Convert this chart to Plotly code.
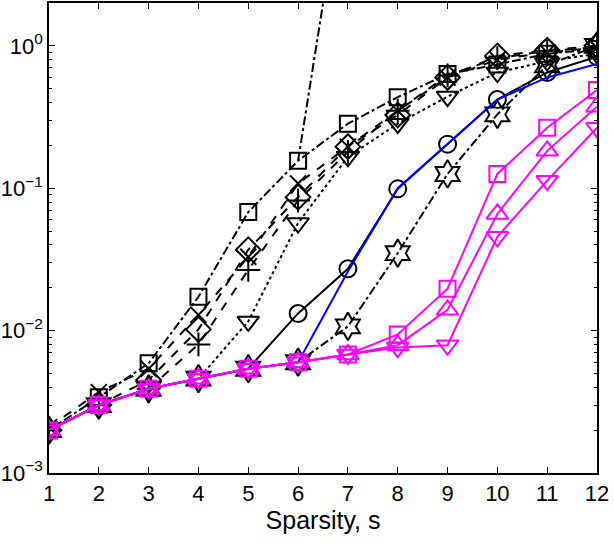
import plotly.graph_objects as go

x = list(range(1, 13))

sq_black = [0.002, 0.0034, 0.0059, 0.0173, 0.068, 0.156, 0.284, 0.436, 0.634, 0.74, 0.88, 0.95]
x_black = [0.0021, 0.0037, 0.0054, 0.0129, 0.033, 0.108, 0.196, 0.35, 0.6, 0.8, 0.9, 0.97]
diamond_black = [0.002, 0.003, 0.0045, 0.0102, 0.037, 0.0866, 0.196, 0.327, 0.6, 0.85, 0.93, 1.0]
plus_black = [0.002, 0.003, 0.0039, 0.008, 0.0267, 0.082, 0.18, 0.35, 0.62, 0.82, 0.92, 0.98]
tridown_black = [0.002, 0.003, 0.0039, 0.0046, 0.0116, 0.057, 0.166, 0.284, 0.44, 0.65, 0.78, 0.88]
circle_black = [0.002, 0.003, 0.0039, 0.0046, 0.0054, 0.0132, 0.0272, 0.099, 0.204, 0.42, 0.65, 0.84]
hexa_black = [0.002, 0.003, 0.0039, 0.0046, 0.0054, 0.006, 0.0107, 0.035, 0.126, 0.33, 0.73, 1.0]
steep_black = [None, None, None, None, None, 0.156, 25, None, None, None, None, None]
blue_line = [0.002, 0.003, 0.0039, 0.0046, 0.0054, 0.006, 0.026, 0.1, 0.204, 0.42, 0.60, 0.745]
sq_magenta = [0.002, 0.003, 0.0039, 0.0046, 0.0054, 0.006, 0.0068, 0.0094, 0.0197, 0.126, 0.266, 0.49]
triup_magenta = [0.002, 0.003, 0.0039, 0.0046, 0.0054, 0.006, 0.0068, 0.0079, 0.014, 0.066, 0.183, 0.374]
tridown_magenta = [0.002, 0.003, 0.0039, 0.0046, 0.0054, 0.006, 0.0068, 0.0076, 0.0079, 0.0456, 0.113, 0.266]

xticks = list(range(1, 13))
yticks = [1e-3, 1e-2, 1e-1, 1e0]
yticktext = ["10<sup>\u22123</sup>", "10<sup>\u22122</sup>", "10<sup>\u22121</sup>", "10<sup>0</sup>"]

BLACK = "#000000"
MAG = "#FF00FF"
BLUE = "#0000FF"

fig = go.Figure()

def add(y, color, dash, symbol, size=14, mode="lines+markers"):
    fig.add_trace(go.Scatter(
        x=x, y=y, mode=mode,
        line=dict(color=color, width=2, dash=dash),
        marker=dict(symbol=symbol, size=size, color=color,
                    line=dict(color=color, width=2)),
        showlegend=False, connectgaps=False,
    ))

add(hexa_black, BLACK, "dashdot", "hexagram-open", 21)
add(circle_black, BLACK, "solid", "circle-open", 17)
add(tridown_black, BLACK, "dot", "triangle-down-open", 19)
add(plus_black, BLACK, "dash", "cross-thin-open", 17)
add(diamond_black, BLACK, "dash", "diamond-open", 19)
add(x_black, BLACK, "dash", "x-thin-open", 16)
add(sq_black, BLACK, "dashdot", "square-open", 16)
add(steep_black, BLACK, "dashdot", "circle", 1, mode="lines")
add(blue_line, BLUE, "solid", "circle", 1, mode="lines")
add(tridown_magenta, MAG, "solid", "triangle-down-open", 19)
add(triup_magenta, MAG, "solid", "triangle-up-open", 19)
add(sq_magenta, MAG, "solid", "square-open", 16)

minor_vals = [m * 10 ** e for e in (-3, -2, -1, 0) for m in range(2, 10)]

fig.update_layout(
    width=614, height=546,
    margin=dict(l=49, r=17, t=1, b=73),
    paper_bgcolor="white", plot_bgcolor="white",
    font=dict(family="Liberation Sans, Arial, sans-serif", size=22, color="black"),
    xaxis=dict(
        range=[1, 12], tickmode="array", tickvals=xticks,
        ticks="inside", ticklen=6, tickwidth=1, tickcolor="black",
        showline=True, linecolor="black", linewidth=1.5, mirror="allticks",
        showgrid=False, zeroline=False,
        title=dict(text="Sparsity, s", standoff=4, font=dict(size=25)),
        tickfont=dict(size=22),
    ),
    yaxis=dict(
        type="log", range=[-3, 0.301],
        tickmode="array", tickvals=yticks, ticktext=yticktext,
        ticks="inside", ticklen=6, tickwidth=1, tickcolor="black",
        showline=True, linecolor="black", linewidth=1.5, mirror="allticks",
        showgrid=False, zeroline=False,
        minor=dict(tickmode="array", tickvals=minor_vals, ticks="inside",
                   ticklen=3, tickcolor="black", showgrid=False),
        tickfont=dict(size=22),
    ),
)

fig.write_html("out.html")
